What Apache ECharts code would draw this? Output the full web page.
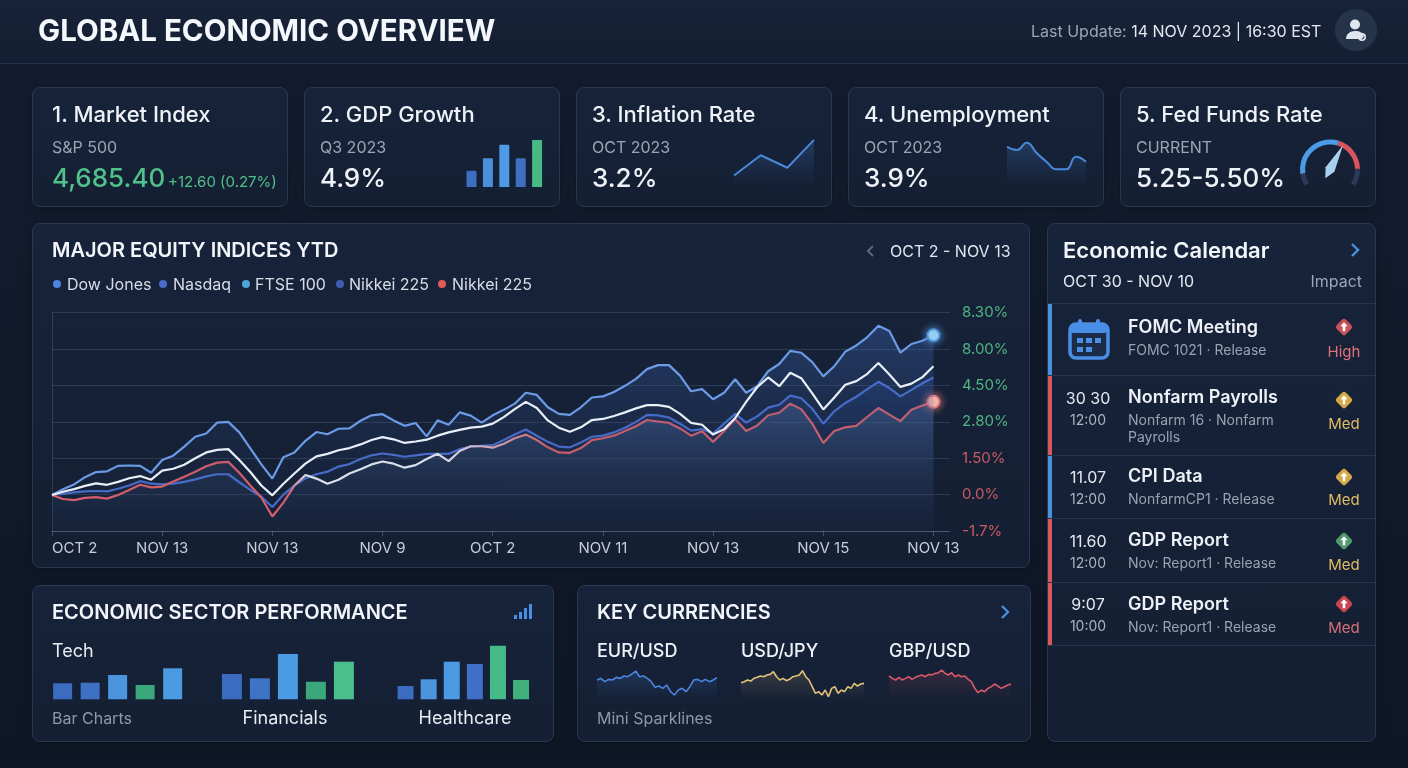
<!DOCTYPE html>
<html><head><meta charset="utf-8">
<script src="https://cdn.jsdelivr.net/npm/echarts@6/dist/echarts.min.js"></script>
<style>
*{box-sizing:border-box;margin:0;padding:0}
html,body{width:1408px;height:768px;overflow:hidden}
body{background:linear-gradient(180deg,#131d30 0%,#0f1726 100%);font-family:Inter,"Noto Sans",sans-serif;color:#eef2f7;position:relative}
.hdr{position:absolute;left:0;top:0;width:1408px;height:64px;background:linear-gradient(180deg,#172238,#141f33);border-bottom:1px solid #25334b}
.panel{position:absolute;border:1px solid #29384f;border-radius:8px;background:linear-gradient(180deg,#17233a 0%,#141f33 100%);box-shadow:0 2px 10px rgba(0,0,0,0.25);z-index:1}
.t{position:absolute;white-space:nowrap;line-height:1;z-index:3}
.c{transform:translateX(-50%)}
.ic{position:absolute;z-index:3}
.sep{position:absolute;left:1048px;width:327px;height:1px;background:#26354c;z-index:2}
.bar{position:absolute;left:1048px;width:4px;z-index:2}
.dot{position:absolute;width:8px;height:8px;border-radius:50%;top:280px;z-index:3}
#chart{position:absolute;left:0;top:0;width:1408px;height:768px;z-index:2}
</style></head>
<body>
<div class="hdr"></div>
<div class="t" style="left:38px;top:16px;font-size:29.5px;font-weight:700;color:#f4f7fb">GLOBAL ECONOMIC OVERVIEW</div>
<div class="t" style="left:1031px;top:23px;font-size:16px;color:#9aa6b8">Last Update: <span style="color:#e3e8f0">14 NOV 2023 | 16:30 EST</span></div>
<svg class="ic" style="left:1335px;top:9px" width="42" height="42" viewBox="0 0 42 42"><circle cx="21" cy="21" r="21" fill="#26344b"/><circle cx="20" cy="15.5" r="5" fill="#dfe6ef"/><path d="M11 30c0-5 4-8 9-8s8 2 9 5l-2 3z" fill="#dfe6ef"/><circle cx="27" cy="28" r="3.2" fill="none" stroke="#dfe6ef" stroke-width="1.6"/></svg>

<!-- KPI cards -->
<div class="panel" style="left:32px;top:87px;width:256px;height:120px"></div>
<div class="panel" style="left:304px;top:87px;width:256px;height:120px"></div>
<div class="panel" style="left:576px;top:87px;width:256px;height:120px"></div>
<div class="panel" style="left:848px;top:87px;width:256px;height:120px"></div>
<div class="panel" style="left:1120px;top:87px;width:256px;height:120px"></div>

<div class="t" style="left:52px;top:103px;font-size:22px;font-weight:500">1. Market Index</div>
<div class="t" style="left:52px;top:139px;font-size:16px;color:#9aa5b5">S&amp;P 500</div>
<div class="t" style="left:52px;top:165px;font-size:26px;font-weight:500;color:#52c08a">4,685.40</div>
<div class="t" style="left:168px;top:174px;font-size:15px;color:#52c08a">+12.60 (0.27%)</div>

<div class="t" style="left:320px;top:103px;font-size:22px;font-weight:500">2. GDP Growth</div>
<div class="t" style="left:320px;top:139px;font-size:16px;color:#9aa5b5">Q3 2023</div>
<div class="t" style="left:320px;top:165px;font-size:26px;font-weight:500">4.9%</div>

<div class="t" style="left:592px;top:103px;font-size:22px;font-weight:500">3. Inflation Rate</div>
<div class="t" style="left:592px;top:139px;font-size:16px;color:#9aa5b5">OCT 2023</div>
<div class="t" style="left:592px;top:165px;font-size:26px;font-weight:500">3.2%</div>

<div class="t" style="left:864px;top:103px;font-size:22px;font-weight:500">4. Unemployment</div>
<div class="t" style="left:864px;top:139px;font-size:16px;color:#9aa5b5">OCT 2023</div>
<div class="t" style="left:864px;top:165px;font-size:26px;font-weight:500">3.9%</div>

<div class="t" style="left:1136px;top:103px;font-size:22px;font-weight:500">5. Fed Funds Rate</div>
<div class="t" style="left:1136px;top:139px;font-size:16px;color:#9aa5b5">CURRENT</div>
<div class="t" style="left:1136px;top:165px;font-size:26px;font-weight:500">5.25-5.50%</div>

<!-- Main chart panel -->
<div class="panel" style="left:32px;top:223px;width:998px;height:345px"></div>
<div class="t" style="left:52px;top:240px;font-size:20px;font-weight:600;color:#f2f5f9">MAJOR EQUITY INDICES YTD</div>
<svg class="ic" style="left:866px;top:244px" width="10" height="14" viewBox="0 0 10 14"><polyline points="7,2 2,7 7,12" fill="none" stroke="#5a6679" stroke-width="2"/></svg>
<div class="t" style="left:890px;top:243px;font-size:16px;color:#dfe5ee">OCT 2 - NOV 13</div>
<div class="dot" style="left:52.5px;background:#4d86e0"></div>
<div class="t" style="left:67px;top:276px;font-size:16px;color:#d7dde7">Dow Jones</div>
<div class="dot" style="left:159px;background:#4a6bc8"></div>
<div class="t" style="left:173px;top:276px;font-size:16px;color:#d7dde7">Nasdaq</div>
<div class="dot" style="left:241.5px;background:#4fa3d8"></div>
<div class="t" style="left:255px;top:276px;font-size:16px;color:#d7dde7">FTSE 100</div>
<div class="dot" style="left:336px;background:#3f5db0"></div>
<div class="t" style="left:349px;top:276px;font-size:16px;color:#d7dde7">Nikkei 225</div>
<div class="dot" style="left:437.5px;background:#e05a5a"></div>
<div class="t" style="left:452px;top:276px;font-size:16px;color:#d7dde7">Nikkei 225</div>

<!-- Calendar -->
<div class="panel" style="left:1047px;top:223px;width:329px;height:519px"></div>
<div class="t" style="left:1063px;top:239px;font-size:22px;font-weight:600;color:#f2f5f9">Economic Calendar</div>
<svg class="ic" style="left:1349px;top:242px" width="12" height="16" viewBox="0 0 12 16"><polyline points="3,2 9,8 3,14" fill="none" stroke="#4a90e2" stroke-width="2.4"/></svg>
<div class="t" style="left:1063px;top:273px;font-size:16px;color:#e3e8f0">OCT 30 - NOV 10</div>
<div class="t" style="right:46px;top:273px;font-size:16px;color:#9aa5b5">Impact</div>
<div class="sep" style="top:303px"></div>
<div class="sep" style="top:375px"></div>
<div class="sep" style="top:455px"></div>
<div class="sep" style="top:518px"></div>
<div class="sep" style="top:582px"></div>
<div class="sep" style="top:645px"></div>
<div class="bar" style="top:304px;height:71px;background:#4a8fe0"></div>
<div class="bar" style="top:376px;height:79px;background:#d9585e"></div>
<div class="bar" style="top:456px;height:62px;background:#4a8fe0"></div>
<div class="bar" style="top:519px;height:63px;background:#d9585e"></div>
<div class="bar" style="top:583px;height:62px;background:#d9585e"></div>

<svg class="ic" style="left:1067px;top:317px" width="44" height="44" viewBox="0 0 44 44"><rect x="3" y="7" width="38" height="34" rx="6" fill="#1c2c48" stroke="#4a8fe6" stroke-width="3.5"/><rect x="3" y="7" width="38" height="9" rx="4" fill="#4a8fe6"/><rect x="11" y="2" width="4" height="10" rx="2" fill="#4a8fe6"/><rect x="29" y="2" width="4" height="10" rx="2" fill="#4a8fe6"/><g fill="#4a8fe6"><rect x="10" y="21" width="6" height="5"/><rect x="19" y="21" width="6" height="5"/><rect x="28" y="21" width="6" height="5"/><rect x="10" y="30" width="6" height="5"/><rect x="19" y="30" width="6" height="5"/></g></svg>
<div class="t" style="left:1128px;top:318px;font-size:18px;font-weight:600">FOMC Meeting</div>
<div class="t" style="left:1128px;top:343px;font-size:14px;color:#97a2b3">FOMC 1021 · Release</div>
<div class="t c" style="left:1344px;top:344px;font-size:15px;color:#e0707a">High</div>

<div class="t c" style="left:1088px;top:390px;font-size:16px;color:#e3e8f0">30 30</div>
<div class="t c" style="left:1088px;top:413px;font-size:14px;color:#a9b3c2">12:00</div>
<div class="t" style="left:1128px;top:388px;font-size:18px;font-weight:600">Nonfarm Payrolls</div>
<div class="t" style="left:1128px;top:413px;font-size:14px;color:#97a2b3">Nonfarm 16 · Nonfarm</div>
<div class="t" style="left:1128px;top:430px;font-size:14px;color:#97a2b3">Payrolls</div>
<div class="t c" style="left:1344px;top:416px;font-size:15px;color:#e2bb66">Med</div>

<div class="t c" style="left:1088px;top:469px;font-size:16px;color:#e3e8f0">11.07</div>
<div class="t c" style="left:1088px;top:492px;font-size:14px;color:#a9b3c2">12:00</div>
<div class="t" style="left:1128px;top:467px;font-size:18px;font-weight:600">CPI Data</div>
<div class="t" style="left:1128px;top:492px;font-size:14px;color:#97a2b3">NonfarmCP1 · Release</div>
<div class="t c" style="left:1344px;top:492px;font-size:15px;color:#e2bb66">Med</div>

<div class="t c" style="left:1088px;top:533px;font-size:16px;color:#e3e8f0">11.60</div>
<div class="t c" style="left:1088px;top:556px;font-size:14px;color:#a9b3c2">12:00</div>
<div class="t" style="left:1128px;top:531px;font-size:18px;font-weight:600">GDP Report</div>
<div class="t" style="left:1128px;top:556px;font-size:14px;color:#97a2b3">Nov: Report1 · Release</div>
<div class="t c" style="left:1344px;top:557px;font-size:15px;color:#e2bb66">Med</div>

<div class="t c" style="left:1088px;top:596px;font-size:16px;color:#e3e8f0">9:07</div>
<div class="t c" style="left:1088px;top:619px;font-size:14px;color:#a9b3c2">10:00</div>
<div class="t" style="left:1128px;top:595px;font-size:18px;font-weight:600">GDP Report</div>
<div class="t" style="left:1128px;top:620px;font-size:14px;color:#97a2b3">Nov: Report1 · Release</div>
<div class="t c" style="left:1344px;top:620px;font-size:15px;color:#d8707a">Med</div>
<div id="diamonds"></div>

<!-- Sector panel -->
<div class="panel" style="left:32px;top:585px;width:522px;height:157px"></div>
<div class="t" style="left:52px;top:602px;font-size:20px;font-weight:600;color:#f2f5f9">ECONOMIC SECTOR PERFORMANCE</div>
<svg class="ic" style="left:514px;top:603px" width="19" height="17" viewBox="0 0 19 17"><g fill="#4a8fe6"><rect x="0" y="12" width="3" height="4"/><rect x="5" y="9" width="3" height="7"/><rect x="10" y="5" width="3" height="11"/><rect x="15" y="1" width="3" height="15"/></g></svg>
<div class="t" style="left:52px;top:642px;font-size:18px;color:#e8edf3">Tech</div>
<div class="t" style="left:52px;top:710px;font-size:16px;color:#8d99ab">Bar Charts</div>
<div class="t c" style="left:285px;top:709px;font-size:18px;color:#e8edf3">Financials</div>
<div class="t c" style="left:465px;top:709px;font-size:18px;color:#e8edf3">Healthcare</div>

<!-- Currencies -->
<div class="panel" style="left:577px;top:585px;width:454px;height:157px"></div>
<div class="t" style="left:597px;top:602px;font-size:20px;font-weight:600;color:#f2f5f9">KEY CURRENCIES</div>
<svg class="ic" style="left:999px;top:604px" width="12" height="16" viewBox="0 0 12 16"><polyline points="3,2 9,8 3,14" fill="none" stroke="#4a90e2" stroke-width="2.2"/></svg>
<div class="t" style="left:597px;top:642px;font-size:18px;font-weight:500">EUR/USD</div>
<div class="t" style="left:741px;top:642px;font-size:18px;font-weight:500">USD/JPY</div>
<div class="t" style="left:889px;top:642px;font-size:18px;font-weight:500">GBP/USD</div>
<div class="t" style="left:597px;top:710px;font-size:16px;color:#8d99ab">Mini Sparklines</div>

<div id="chart"></div>
<script>
// ---------- DATA ----------
const eqXLabels = ['OCT 2','NOV 13','NOV 13','NOV 9','OCT 2','NOV 11','NOV 13','NOV 15','NOV 13'];
const eqYLabels = ['-1.7%','0.0%','1.50%','2.80%','4.50%','8.00%','8.30%'];
const dowJones = [0.99,1.15,1.28,1.48,1.62,1.64,1.79,1.80,1.79,1.60,
  1.95,2.07,2.32,2.59,2.68,2.98,3.00,2.71,2.27,1.83,
  1.44,2.03,2.16,2.48,2.72,2.66,2.81,2.82,3.03,3.18,
  3.21,3.04,2.89,2.97,2.60,3.04,2.92,3.26,3.17,2.98,
  3.18,3.33,3.50,3.80,3.74,3.40,3.22,3.19,3.40,3.67,
  3.70,3.82,3.99,4.18,4.45,4.56,4.56,4.27,3.84,3.90,
  3.62,3.80,4.17,3.80,3.98,4.39,4.59,4.95,4.90,4.64,
  4.25,4.53,4.93,5.10,5.33,5.64,5.50,4.90,5.14,5.23,5.38];
const ftse100 = [0.99,1.08,1.15,1.24,1.31,1.27,1.35,1.45,1.51,1.41,
  1.66,1.71,1.82,2.00,2.16,2.23,2.25,1.95,1.62,1.25,
  0.98,1.30,1.58,1.85,2.05,2.12,2.22,2.28,2.38,2.50,
  2.58,2.52,2.42,2.46,2.51,2.62,2.71,2.78,2.84,2.87,
  2.95,3.13,3.35,3.55,3.38,3.04,2.84,2.73,2.85,3.05,
  3.08,3.16,3.26,3.37,3.46,3.46,3.41,3.22,2.97,2.92,
  2.65,2.80,3.10,3.55,3.95,4.22,3.98,4.35,4.20,3.78,
  3.34,3.67,4.02,4.12,4.32,4.62,4.30,3.96,4.05,4.23,4.53];
const nasdaq = [0.99,1.02,1.06,1.09,1.10,1.09,1.16,1.25,1.37,1.30,
  1.28,1.30,1.35,1.42,1.50,1.56,1.56,1.34,1.13,0.94,
  0.66,1.00,1.25,1.45,1.56,1.63,1.77,1.84,1.98,2.08,
  2.13,2.09,2.04,2.08,2.12,2.12,2.12,2.25,2.32,2.34,
  2.36,2.50,2.65,2.79,2.62,2.45,2.32,2.30,2.43,2.59,
  2.62,2.71,2.84,3.00,3.19,3.18,3.12,2.95,2.76,2.80,
  2.68,2.95,3.22,2.98,3.15,3.39,3.47,3.72,3.65,3.36,
  2.95,3.29,3.52,3.69,3.90,4.10,3.93,3.70,3.88,4.06,4.22];
const nikkei225 = [0.99,0.88,0.85,0.91,0.93,0.89,0.99,1.13,1.27,1.20,
  1.22,1.36,1.49,1.63,1.78,1.88,1.90,1.60,1.25,0.92,
  0.40,0.78,1.25,1.54,1.44,1.30,1.41,1.58,1.70,1.83,
  1.91,1.85,1.74,1.81,1.98,2.12,1.92,2.20,2.33,2.33,
  2.29,2.40,2.55,2.65,2.50,2.30,2.16,2.15,2.28,2.50,
  2.55,2.62,2.75,2.88,3.05,3.01,2.97,2.82,2.62,2.74,
  2.45,2.75,3.08,2.75,2.90,3.18,3.25,3.50,3.35,2.95,
  2.42,2.75,2.85,2.89,3.14,3.38,3.20,3.02,3.33,3.45,3.55];

const gdpValues = [1.7, 3.0, 4.4, 3.0, 4.9];
const inflationValues = [1.1, 3.2, 1.9, 4.8];
const unemploymentValues = [4.09, 3.75, 4.51, 3.44, 2.53, 1.74, 1.74, 3.05, 2.53];
const fedRate = 5.375;

const techValues = [1.6, 1.66, 2.43, 1.43, 3.1];
const financialsValues = [2.53, 2.1, 4.53, 1.76, 3.76];
const healthcareValues = [1.33, 2.0, 3.76, 3.53, 5.36, 1.93];

const eurUsd = [6.0,6.5,5.5,6.2,6.0,6.8,6.5,7.2,7.0,7.8,8.7,7.0,7.2,6.5,5.5,3.8,4.2,3.5,4.5,2.5,1.5,3.0,3.5,2.5,4.0,6.0,6.2,5.5,6.2,5.5,6.0,6.7];
const usdJpy = [5.2,5.5,6.0,5.7,6.5,6.8,7.2,7.0,7.5,7.7,8.5,7.0,6.0,6.5,5.8,6.2,7.0,7.2,7.5,8.8,7.0,6.0,4.0,2.0,2.5,1.5,3.0,1.0,3.5,4.0,2.0,3.0,2.5,4.0,3.5,5.0,4.2,4.8,5.0];
const gbpUsd = [7.2,6.5,6.0,6.8,6.0,6.5,7.0,6.2,6.8,7.2,7.5,7.0,7.7,7.5,8.0,8.2,9.0,8.0,7.5,8.2,7.0,7.5,7.0,7.2,6.2,5.5,3.5,2.2,3.0,2.5,3.5,4.0,4.8,4.2,3.5,4.0,4.5,4.8];

const impactLevels = [
  {y:327, color:'#c8505a'},
  {y:400, color:'#d6a847'},
  {y:477, color:'#d6a847'},
  {y:541, color:'#4f9a6e'},
  {y:604, color:'#c8464f'}
];

// ---------- STYLES ----------
const gdpColors = ['#3c6ec2','#4a8fdc','#4d9be6','#3f6fc2','#47b985'];
const techColors = ['#3b6cc0','#3e70c3','#4b95de','#3aa87a','#4c9be2'];
const finColors = ['#3b6cc0','#3f73c6','#4b9ae4','#3aa87a','#48bf8c'];
const healthColors = ['#3b6cc0','#4b95de','#4b9ae4','#3f6fc6','#46bb88','#3faf7e'];

document.getElementById('diamonds').innerHTML = impactLevels.map(d =>
  `<svg class="ic" style="left:1333px;top:${d.y-11}px" width="22" height="22" viewBox="0 0 22 22"><rect x="4.5" y="4.5" width="13" height="13" rx="2.5" transform="rotate(45 11 11)" fill="${d.color}"/><path d="M11 6.3 L14.6 10.2 H12.3 V15.2 H9.7 V10.2 H7.4 Z" fill="#fff"/></svg>`).join('');

function grad(c0, c1){ return new echarts.graphic.LinearGradient(0,0,0,1,[{offset:0,color:c0},{offset:1,color:c1}]); }
const idx = a => a.map((_, i) => i);
const hidden = {show:false};

const chart = echarts.init(document.getElementById('chart'), null, {renderer:'canvas'});
const lastIdx = dowJones.length - 1;
function withEnd(arr, fill, border){
  return arr.map((v,i) => i === lastIdx
    ? {value:[i,v], symbol:'circle', symbolSize:12, itemStyle:{color:fill, borderColor:border, borderWidth:2, shadowBlur:8, shadowColor:border}}
    : [i,v]);
}
const gridLineColor = 'rgba(140,160,195,0.20)';
const xTickVals = eqXLabels.map((_, i) => i*10);

const option = {
  backgroundColor:'transparent',
  animation:false,
  grid:[
    {left:52, top:312.7, width:898, height:218.3, outerBoundsMode:'none'},
    {left:463.3, top:139, width:82, height:48, outerBoundsMode:'none'},
    {left:734, top:138, width:80, height:48, outerBoundsMode:'none'},
    {left:1007, top:138, width:79, height:48, outerBoundsMode:'none'},
    {left:48.9, top:639.3, width:137.5, height:60, outerBoundsMode:'none'},
    {left:217.9, top:639.3, width:140, height:60, outerBoundsMode:'none'},
    {left:394, top:639.3, width:138.6, height:60, outerBoundsMode:'none'},
    {left:597, top:666.7, width:120, height:33.3, outerBoundsMode:'none'},
    {left:741, top:666.7, width:123, height:33.3, outerBoundsMode:'none'},
    {left:889, top:666.7, width:122, height:33.3, outerBoundsMode:'none'}
  ],
  xAxis:[
    {gridIndex:0, type:'value', min:0, max:81.5, interval:10,
     axisLine:{show:true, lineStyle:{color:'rgba(140,160,195,0.30)'}},
     axisTick:{show:true, length:5, customValues:xTickVals, lineStyle:{color:'rgba(140,160,195,0.35)'}},
     splitLine:{show:false},
     axisLabel:{customValues:xTickVals, color:'#c5cdd9', fontSize:15, fontFamily:'Inter', margin:10, alignMinLabel:'left',
       formatter: v => { const k = Math.round(v/10); return (Math.abs(v - k*10) < 1e-6 && eqXLabels[k]) ? eqXLabels[k] : ''; }}},
    {gridIndex:1, type:'category', data:idx(gdpValues), show:false},
    {gridIndex:2, type:'category', data:idx(inflationValues), boundaryGap:false, show:false},
    {gridIndex:3, type:'category', data:idx(unemploymentValues), boundaryGap:false, show:false},
    {gridIndex:4, type:'category', data:idx(techValues), show:false},
    {gridIndex:5, type:'category', data:idx(financialsValues), show:false},
    {gridIndex:6, type:'category', data:idx(healthcareValues), show:false},
    {gridIndex:7, type:'category', data:idx(eurUsd), boundaryGap:false, show:false},
    {gridIndex:8, type:'category', data:idx(usdJpy), boundaryGap:false, show:false},
    {gridIndex:9, type:'category', data:idx(gbpUsd), boundaryGap:false, show:false}
  ],
  yAxis:[
    {gridIndex:0, type:'value', position:'right', min:0, max:6, interval:1,
     axisLine:{show:true, lineStyle:{color:'rgba(140,160,195,0.22)'}},
     axisTick:{show:false},
     splitLine:{show:true, lineStyle:{color:gridLineColor, width:1}},
     axisLabel:{fontSize:15, fontFamily:'Inter', margin:12,
       formatter: v => eqYLabels[Math.round(v)] || '',
       color: v => (Number(v) <= 2 ? '#cc5a62' : '#4fb584')}},
    {gridIndex:1, type:'value', min:0, max:5, show:false},
    {gridIndex:2, type:'value', min:0, max:5, show:false},
    {gridIndex:3, type:'value', min:0, max:5, show:false},
    {gridIndex:4, type:'value', min:0, max:6, show:false},
    {gridIndex:5, type:'value', min:0, max:6, show:false},
    {gridIndex:6, type:'value', min:0, max:6, show:false},
    {gridIndex:7, type:'value', min:0, max:10, show:false},
    {gridIndex:8, type:'value', min:0, max:10, show:false},
    {gridIndex:9, type:'value', min:0, max:10, show:false}
  ],
  series:[
    {name:'Dow Jones', type:'line', xAxisIndex:0, yAxisIndex:0, data:withEnd(dowJones,'#aee0fa','#4f93d8'),
     symbol:'none', showSymbol:true, showAllSymbol:true, z:5,
     lineStyle:{color:'#6b9be6', width:2.2},
     areaStyle:{color:grad('rgba(72,120,210,0.45)','rgba(30,50,90,0.02)')}},
    {name:'Nasdaq', type:'line', xAxisIndex:0, yAxisIndex:0, data:nasdaq.map((v,i)=>[i,v]),
     symbol:'none', z:4, lineStyle:{color:'#4b6fd0', width:2.2},
     areaStyle:{color:grad('rgba(45,85,180,0.32)','rgba(30,50,100,0.0)')}},
    {name:'Nikkei 225', type:'line', xAxisIndex:0, yAxisIndex:0, data:withEnd(nikkei225,'#f8c8ba','#e07a78'),
     symbol:'none', showSymbol:true, showAllSymbol:true, z:4,
     lineStyle:{width:2.2, color:new echarts.graphic.LinearGradient(0,0,1,0,[
       {offset:0,color:'#e0606a'},{offset:0.27,color:'#e0606a'},{offset:0.29,color:'#eef2f8'},
       {offset:0.44,color:'#eef0f6'},{offset:0.51,color:'#e8a4ae'},{offset:0.56,color:'#de6068'},{offset:1,color:'#de6068'}])},
     areaStyle:{color:grad('rgba(100,130,172,0.45)','rgba(40,60,95,0.14)')}},
    {name:'FTSE 100', type:'line', xAxisIndex:0, yAxisIndex:0, data:ftse100.map((v,i)=>[i,v]),
     symbol:'none', z:6, lineStyle:{color:'#e9eff8', width:2.2}},

    {type:'bar', xAxisIndex:1, yAxisIndex:1, data:gdpValues, barWidth:10,
     itemStyle:{color:p => gdpColors[p.dataIndex], borderRadius:[1,1,0,0]}},
    {type:'line', xAxisIndex:2, yAxisIndex:2, data:inflationValues, symbol:'none',
     lineStyle:{color:'#4a88dc', width:2}, areaStyle:{color:grad('rgba(74,136,220,0.35)','rgba(74,136,220,0)')}},
    {type:'line', xAxisIndex:3, yAxisIndex:3, data:unemploymentValues, symbol:'none', smooth:0.5,
     lineStyle:{color:'#4a88dc', width:2}, areaStyle:{color:grad('rgba(74,136,220,0.35)','rgba(74,136,220,0)')}},
    {type:'gauge', center:[1330,169.5], radius:30, startAngle:213, endAngle:-33, min:0, max:8.75,
     data:[{value:fedRate}],
     axisLine:{lineStyle:{width:5, color:[[0.1,'#2b3b57'],[0.57,'#4b9be6'],[0.86,'#d9535d'],[1,'#2b3b57']]}},
     splitLine:hidden, axisTick:hidden, axisLabel:hidden, detail:hidden, title:hidden, anchor:hidden,
     pointer:{show:true, length:'92%', width:5, offsetCenter:[0,0], itemStyle:{color:'#a9d0f0'}}},

    {type:'bar', xAxisIndex:4, yAxisIndex:4, data:techValues, barWidth:19,
     itemStyle:{color:p => techColors[p.dataIndex]}},
    {type:'bar', xAxisIndex:5, yAxisIndex:5, data:financialsValues, barWidth:20,
     itemStyle:{color:p => finColors[p.dataIndex]}},
    {type:'bar', xAxisIndex:6, yAxisIndex:6, data:healthcareValues, barWidth:16,
     itemStyle:{color:p => healthColors[p.dataIndex]}},

    {type:'line', xAxisIndex:7, yAxisIndex:7, data:eurUsd, symbol:'none',
     lineStyle:{color:'#4a86dd', width:1.6}, areaStyle:{color:grad('rgba(74,134,221,0.30)','rgba(74,134,221,0)')}},
    {type:'line', xAxisIndex:8, yAxisIndex:8, data:usdJpy, symbol:'none',
     lineStyle:{color:'#e2c27a', width:1.6}, areaStyle:{color:grad('rgba(226,194,122,0.25)','rgba(226,194,122,0)')}},
    {type:'line', xAxisIndex:9, yAxisIndex:9, data:gbpUsd, symbol:'none',
     lineStyle:{color:'#d8596a', width:1.6}, areaStyle:{color:grad('rgba(216,89,106,0.25)','rgba(216,89,106,0)')}}
  ]
};
chart.setOption(option);
</script>
</body></html>
